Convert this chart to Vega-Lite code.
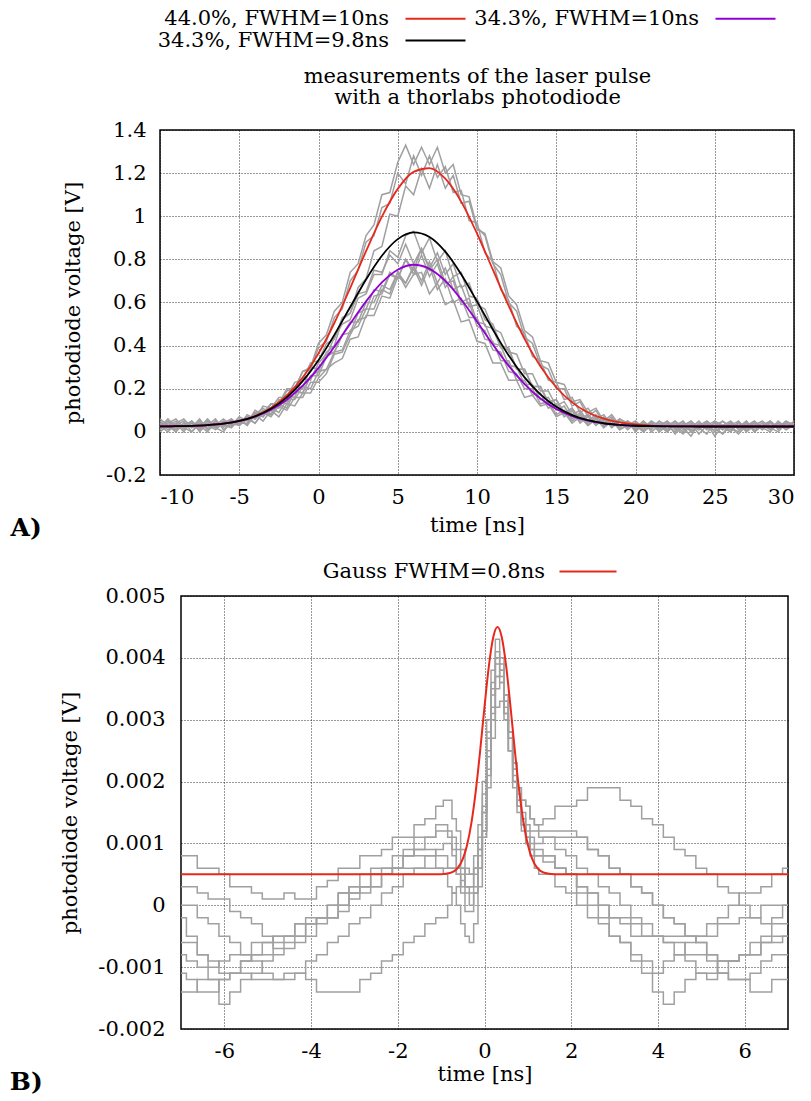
{
"$schema": "https://vega.github.io/schema/vega-lite/v6.json",
"padding": {"left": 2, "top": 7, "right": 5, "bottom": 5},
"spacing": 18,
"resolve": {"scale": {"color": "independent"}},
"datasets": {
"topgray": [
{"t":-10,"a":0.03,"b":0.05,"c":0.01,"d":0.04,"e":0.02,"f":0.06,"g":0,"h":0.03,"i":0.04,"j":0.01},
{"t":-9.5,"a":0.05,"b":0.02,"c":0.04,"d":0.01,"e":0.06,"f":0.03,"g":0.03,"h":0,"i":0.02,"j":0.05},
{"t":-9,"a":0.01,"b":0.04,"c":0.06,"d":0.03,"e":0.02,"f":0,"g":0.05,"h":0.04,"i":0.01,"j":0.03},
{"t":-8.5,"a":0.04,"b":0,"c":0.02,"d":0.05,"e":0.03,"f":0.04,"g":0.01,"h":0.06,"i":0.03,"j":0.02},
{"t":-8,"a":0.02,"b":0.05,"c":0.03,"d":0,"e":0.04,"f":0.02,"g":0.04,"h":0.02,"i":0.05,"j":0},
{"t":-7.5,"a":0.06,"b":0.02,"c":0.01,"d":0.04,"e":0.01,"f":0.05,"g":0.02,"h":0.03,"i":0,"j":0.04},
{"t":-7,"a":0.01,"b":0.03,"c":0.05,"d":0.02,"e":0.05,"f":0.01,"g":0.06,"h":0,"i":0.04,"j":0.03},
{"t":-6.5,"a":0.04,"b":0.06,"c":0.02,"d":0.05,"e":0.02,"f":0.03,"g":0.02,"h":0.05,"i":0.02,"j":0.01},
{"t":-6,"a":0.03,"b":0.01,"c":0.05,"d":0.02,"e":0.04,"f":0.06,"g":0,"h":0.03,"i":0.05,"j":0.04},
{"t":-5.5,"a":0.05,"b":0.04,"c":0.03,"d":0.06,"e":0.02,"f":0.03,"g":0.05,"h":0.02,"i":0.03,"j":0.06},
{"t":-5,"a":0.04,"b":0.03,"c":0.07,"d":0.03,"e":0.06,"f":0.05,"g":0.03,"h":0.06,"i":0.04,"j":0.03},
{"t":-4.5,"a":0.04,"b":0.06,"c":0.05,"d":0.08,"e":0.03,"f":0.07,"g":0.06,"h":0.03,"i":0.07,"j":0.07},
{"t":-4,"a":0.1,"b":0.04,"c":0.09,"d":0.06,"e":0.09,"f":0.06,"g":0.08,"h":0.08,"i":0.04,"j":0.06},
{"t":-3.5,"a":0.08,"b":0.09,"c":0.07,"d":0.1,"e":0.07,"f":0.12,"g":0.05,"h":0.11,"i":0.09,"j":0.09},
{"t":-3,"a":0.13,"b":0.08,"c":0.13,"d":0.08,"e":0.11,"f":0.11,"g":0.1,"h":0.08,"i":0.13,"j":0.07},
{"t":-2.5,"a":0.12,"b":0.13,"c":0.13,"d":0.14,"e":0.09,"f":0.16,"g":0.07,"h":0.15,"i":0.11,"j":0.12},
{"t":-2,"a":0.19,"b":0.11,"c":0.2,"d":0.13,"e":0.15,"f":0.16,"g":0.13,"h":0.14,"i":0.17,"j":0.1},
{"t":-1.5,"a":0.2,"b":0.19,"c":0.2,"d":0.19,"e":0.15,"f":0.23,"g":0.12,"h":0.21,"i":0.16,"j":0.16},
{"t":-1,"a":0.28,"b":0.18,"c":0.28,"d":0.18,"e":0.21,"f":0.24,"g":0.18,"h":0.2,"i":0.25,"j":0.16},
{"t":-0.5,"a":0.29,"b":0.26,"c":0.3,"d":0.26,"e":0.2,"f":0.32,"g":0.18,"h":0.3,"i":0.24,"j":0.23},
{"t":0,"a":0.39,"b":0.28,"c":0.41,"d":0.26,"e":0.28,"f":0.33,"g":0.25,"h":0.29,"i":0.32,"j":0.23},
{"t":0.5,"a":0.42,"b":0.37,"c":0.45,"d":0.35,"e":0.29,"f":0.41,"g":0.29,"h":0.35,"i":0.36,"j":0.27},
{"t":1,"a":0.53,"b":0.4,"c":0.56,"d":0.37,"e":0.37,"f":0.43,"g":0.32,"h":0.44,"i":0.37,"j":0.36},
{"t":1.5,"a":0.57,"b":0.52,"c":0.6,"d":0.45,"e":0.38,"f":0.53,"g":0.34,"h":0.5,"i":0.45,"j":0.37},
{"t":2,"a":0.7,"b":0.55,"c":0.74,"d":0.46,"e":0.47,"f":0.55,"g":0.43,"h":0.52,"i":0.51,"j":0.45},
{"t":2.5,"a":0.75,"b":0.67,"c":0.78,"d":0.55,"e":0.49,"f":0.64,"g":0.44,"h":0.62,"i":0.51,"j":0.52},
{"t":3,"a":0.88,"b":0.71,"c":0.91,"d":0.57,"e":0.57,"f":0.65,"g":0.54,"h":0.64,"i":0.6,"j":0.53},
{"t":3.5,"a":0.91,"b":0.84,"c":0.96,"d":0.66,"e":0.57,"f":0.75,"g":0.54,"h":0.73,"i":0.6,"j":0.63},
{"t":4,"a":1.04,"b":0.86,"c":1.1,"d":0.65,"e":0.66,"f":0.74,"g":0.63,"h":0.73,"i":0.68,"j":0.64},
{"t":4.5,"a":1.06,"b":1.01,"c":1.11,"d":0.74,"e":0.64,"f":0.82,"g":0.62,"h":0.84,"i":0.66,"j":0.73},
{"t":5,"a":1.2,"b":1,"c":1.25,"d":0.71,"e":0.74,"f":0.78,"g":0.72,"h":0.81,"i":0.74,"j":0.71},
{"t":5.5,"a":1.15,"b":1.14,"c":1.33,"d":0.8,"e":0.69,"f":0.87,"g":0.69,"h":0.91,"i":0.67,"j":0.8},
{"t":6,"a":1.28,"b":1.1,"c":1.24,"d":0.73,"e":0.76,"f":0.78,"g":0.77,"h":0.93,"i":0.73,"j":0.75},
{"t":6.5,"a":1.19,"b":1.22,"c":1.32,"d":0.82,"e":0.68,"f":0.85,"g":0.7,"h":0.83,"i":0.74,"j":0.85},
{"t":7,"a":1.28,"b":1.13,"c":1.24,"d":0.72,"e":0.77,"f":0.75,"g":0.79,"h":0.9,"i":0.64,"j":0.76},
{"t":7.5,"a":1.18,"b":1.24,"c":1.32,"d":0.78,"e":0.66,"f":0.8,"g":0.69,"h":0.79,"i":0.69,"j":0.83},
{"t":8,"a":1.23,"b":1.13,"c":1.2,"d":0.67,"e":0.71,"f":0.69,"g":0.76,"h":0.84,"i":0.59,"j":0.73},
{"t":8.5,"a":1.11,"b":1.19,"c":1.24,"d":0.72,"e":0.6,"f":0.7,"g":0.66,"h":0.72,"i":0.61,"j":0.78},
{"t":9,"a":1.12,"b":1.06,"c":1.1,"d":0.6,"e":0.62,"f":0.59,"g":0.68,"h":0.74,"i":0.51,"j":0.67},
{"t":9.5,"a":0.98,"b":1.07,"c":1.09,"d":0.62,"e":0.53,"f":0.6,"g":0.58,"h":0.63,"i":0.52,"j":0.69},
{"t":10,"a":0.97,"b":0.94,"c":0.95,"d":0.51,"e":0.53,"f":0.49,"g":0.59,"h":0.62,"i":0.42,"j":0.59},
{"t":10.5,"a":0.83,"b":0.92,"c":0.91,"d":0.5,"e":0.43,"f":0.47,"g":0.49,"h":0.52,"i":0.41,"j":0.57},
{"t":11,"a":0.79,"b":0.79,"c":0.78,"d":0.41,"e":0.42,"f":0.38,"g":0.48,"h":0.5,"i":0.32,"j":0.48},
{"t":11.5,"a":0.66,"b":0.76,"c":0.73,"d":0.4,"e":0.33,"f":0.37,"g":0.39,"h":0.4,"i":0.32,"j":0.46},
{"t":12,"a":0.61,"b":0.63,"c":0.6,"d":0.31,"e":0.33,"f":0.28,"g":0.38,"h":0.39,"i":0.24,"j":0.37},
{"t":12.5,"a":0.49,"b":0.59,"c":0.56,"d":0.3,"e":0.24,"f":0.27,"g":0.29,"h":0.29,"i":0.24,"j":0.36},
{"t":13,"a":0.46,"b":0.47,"c":0.44,"d":0.22,"e":0.24,"f":0.2,"g":0.29,"h":0.29,"i":0.16,"j":0.27},
{"t":13.5,"a":0.35,"b":0.44,"c":0.41,"d":0.22,"e":0.17,"f":0.2,"g":0.21,"h":0.21,"i":0.17,"j":0.27},
{"t":14,"a":0.33,"b":0.33,"c":0.31,"d":0.15,"e":0.18,"f":0.13,"g":0.21,"h":0.21,"i":0.12,"j":0.19},
{"t":14.5,"a":0.24,"b":0.32,"c":0.29,"d":0.16,"e":0.11,"f":0.14,"g":0.14,"h":0.13,"i":0.13,"j":0.19},
{"t":15,"a":0.23,"b":0.23,"c":0.2,"d":0.1,"e":0.13,"f":0.08,"g":0.15,"h":0.15,"i":0.07,"j":0.12},
{"t":15.5,"a":0.15,"b":0.22,"c":0.2,"d":0.12,"e":0.07,"f":0.1,"g":0.09,"h":0.08,"i":0.09,"j":0.14},
{"t":16,"a":0.16,"b":0.14,"c":0.12,"d":0.06,"e":0.1,"f":0.05,"g":0.11,"h":0.11,"i":0.04,"j":0.08},
{"t":16.5,"a":0.09,"b":0.15,"c":0.14,"d":0.09,"e":0.04,"f":0.08,"g":0.06,"h":0.05,"i":0.07,"j":0.1},
{"t":17,"a":0.11,"b":0.09,"c":0.07,"d":0.04,"e":0.07,"f":0.03,"g":0.08,"h":0.08,"i":0.03,"j":0.05},
{"t":17.5,"a":0.06,"b":0.11,"c":0.1,"d":0.07,"e":0.03,"f":0.06,"g":0.04,"h":0.04,"i":0.06,"j":0.08},
{"t":18,"a":0.08,"b":0.05,"c":0.04,"d":0.02,"e":0.06,"f":0.02,"g":0.07,"h":0.06,"i":0.02,"j":0.03},
{"t":18.5,"a":0.03,"b":0.08,"c":0.07,"d":0.06,"e":0.02,"f":0.05,"g":0.02,"h":0.03,"i":0.05,"j":0.06},
{"t":19,"a":0.06,"b":0.03,"c":0.02,"d":0.01,"e":0.05,"f":0.02,"g":0.05,"h":0.06,"i":0.01,"j":0.03},
{"t":19.5,"a":0.04,"b":0.05,"c":0.05,"d":0.03,"e":0.02,"f":0.05,"g":0.01,"h":0.03,"i":0.04,"j":0.05},
{"t":20,"a":0.01,"b":0.03,"c":0.02,"d":0.05,"e":0.04,"f":0,"g":0.04,"h":0.05,"i":0.02,"j":0.01},
{"t":20.5,"a":0.05,"b":0,"c":0.04,"d":0.02,"e":0.01,"f":0.04,"g":0.02,"h":0,"i":0.05,"j":0.03},
{"t":21,"a":0.02,"b":0.04,"c":0.01,"d":0.04,"e":0.05,"f":0.02,"g":0.05,"h":0.03,"i":0,"j":0.04},
{"t":21.5,"a":0.03,"b":0.02,"c":0.05,"d":0,"e":0.03,"f":0.05,"g":0.01,"h":0.04,"i":0.03,"j":0.01},
{"t":22,"a":0,"b":0.05,"c":0.03,"d":0.03,"e":0,"f":0.01,"g":0.04,"h":0.01,"i":0.05,"j":0.04},
{"t":22.5,"a":0.04,"b":0.01,"c":0,"d":0.05,"e":0.03,"f":0.03,"g":-0.01,"h":0.05,"i":0.02,"j":0.02},
{"t":23,"a":0.02,"b":0.04,"c":0.04,"d":0.01,"e":0.05,"f":0,"g":0.03,"h":0.02,"i":-0.01,"j":0.05},
{"t":23.5,"a":0.05,"b":0,"c":0.02,"d":0.04,"e":0.01,"f":0.04,"g":0.05,"h":-0.02,"i":0.03,"j":0},
{"t":24,"a":0.01,"b":0.03,"c":0.05,"d":0.02,"e":0.04,"f":-0.01,"g":0.02,"h":0.04,"i":0.01,"j":0.03},
{"t":24.5,"a":0.04,"b":0.05,"c":0.01,"d":-0.01,"e":0.02,"f":0.03,"g":0.04,"h":0.01,"i":0.05,"j":0.02},
{"t":25,"a":0,"b":0.02,"c":0.04,"d":0.05,"e":0.01,"f":0.05,"g":-0.02,"h":0.03,"i":0.02,"j":0.04},
{"t":25.5,"a":0.03,"b":-0.01,"c":0.02,"d":0.03,"e":0.05,"f":0.01,"g":0.03,"h":0.05,"i":-0.01,"j":0.01},
{"t":26,"a":0.05,"b":0.03,"c":0,"d":0.01,"e":0.02,"f":0.04,"g":0,"h":0.02,"i":0.04,"j":0.05},
{"t":26.5,"a":0.02,"b":0.05,"c":0.04,"d":0.04,"e":-0.01,"f":0.02,"g":0.05,"h":0,"i":0.02,"j":0.01},
{"t":27,"a":0.04,"b":0.01,"c":0.02,"d":0,"e":0.03,"f":0.05,"g":0.01,"h":0.04,"i":0.05,"j":0.03},
{"t":27.5,"a":0.01,"b":0.04,"c":0.05,"d":0.03,"e":0.04,"f":0,"g":0.03,"h":0.02,"i":0,"j":0.05},
{"t":28,"a":0.03,"b":0.02,"c":0.01,"d":0.05,"e":0.01,"f":0.03,"g":0.05,"h":0.04,"i":0.03,"j":0.02},
{"t":28.5,"a":0.05,"b":0,"c":0.04,"d":0.02,"e":0.05,"f":0.01,"g":0.02,"h":0.01,"i":0.05,"j":0.04},
{"t":29,"a":0.02,"b":0.04,"c":0.02,"d":0.04,"e":0.02,"f":0.04,"g":0,"h":0.05,"i":0.01,"j":0.02},
{"t":29.5,"a":0.04,"b":0.01,"c":0.05,"d":0.01,"e":0.04,"f":0.02,"g":0.04,"h":0.02,"i":0.04,"j":0.05},
{"t":30,"a":0.02,"b":0.03,"c":0.03,"d":0.04,"e":0.02,"f":0.05,"g":0.02,"h":0.04,"i":0.02,"j":0.03}
],
"topfit": [
{"t":-10,"f1":0.0255,"f2":0.0256,"f3":0.0255},
{"t":-9,"f1":0.0262,"f2":0.0264,"f3":0.0263},
{"t":-8,"f1":0.0279,"f2":0.0282,"f3":0.0279},
{"t":-7,"f1":0.0314,"f2":0.0317,"f3":0.0313},
{"t":-6,"f1":0.0382,"f2":0.0384,"f3":0.0381},
{"t":-5,"f1":0.0511,"f2":0.0504,"f3":0.0507},
{"t":-4,"f1":0.0737,"f2":0.0706,"f3":0.0723},
{"t":-3,"f1":0.1111,"f2":0.1024,"f3":0.107},
{"t":-2,"f1":0.1686,"f2":0.149,"f3":0.16},
{"t":-1,"f1":0.252,"f2":0.214,"f3":0.235},
{"t":0,"f1":0.364,"f2":0.297,"f3":0.332},
{"t":1,"f1":0.505,"f2":0.395,"f3":0.45},
{"t":2,"f1":0.667,"f2":0.501,"f3":0.579},
{"t":3,"f1":0.838,"f2":0.605,"f3":0.707},
{"t":4,"f1":0.998,"f2":0.693,"f3":0.817},
{"t":5,"f1":1.127,"f2":0.752,"f3":0.894},
{"t":6,"f1":1.206,"f2":0.775,"f3":0.925},
{"t":7,"f1":1.223,"f2":0.756,"f3":0.904},
{"t":8,"f1":1.174,"f2":0.7,"f3":0.836},
{"t":9,"f1":1.068,"f2":0.614,"f3":0.731},
{"t":10,"f1":0.92,"f2":0.512,"f3":0.605},
{"t":11,"f1":0.752,"f2":0.405,"f3":0.475},
{"t":12,"f1":0.584,"f2":0.306,"f3":0.354},
{"t":13,"f1":0.431,"f2":0.222,"f3":0.253},
{"t":14,"f1":0.304,"f2":0.155,"f3":0.174},
{"t":15,"f1":0.207,"f2":0.106,"f3":0.116},
{"t":16,"f1":0.137,"f2":0.0732,"f3":0.078},
{"t":17,"f1":0.09,"f2":0.052,"f3":0.054},
{"t":18,"f1":0.061,"f2":0.0393,"f3":0.04},
{"t":19,"f1":0.0437,"f2":0.0322,"f3":0.0324},
{"t":20,"f1":0.0342,"f2":0.0284,"f3":0.0284},
{"t":21,"f1":0.0293,"f2":0.0265,"f3":0.0265},
{"t":22,"f1":0.0269,"f2":0.0257,"f3":0.0256},
{"t":23,"f1":0.0258,"f2":0.0253,"f3":0.0252},
{"t":24,"f1":0.0253,"f2":0.025,"f3":0.025},
{"t":25,"f1":0.025,"f2":0.025,"f3":0.025},
{"t":30,"f1":0.025,"f2":0.025,"f3":0.025}
],
"botgray": [
{"t":-7,"a":0.0008,"b":0.0003,"c":0,"d":-0.0002,"e":-0.0006,"f":-0.0008,"g":-0.0014,"h":-0.0011},
{"t":-6.75,"a":0.0008,"b":0.0003,"c":0,"d":-0.0005,"e":-0.0006,"f":-0.0009,"g":-0.0014,"h":-0.0012},
{"t":-6.5,"a":0.0006,"b":0.0002,"c":-0.0002,"d":-0.0008,"e":-0.0008,"f":-0.001,"g":-0.0012,"h":-0.0014},
{"t":-6.25,"a":0.0006,"b":0.0001,"c":-0.0003,"d":-0.0012,"e":-0.0009,"f":-0.001,"g":-0.0012,"h":-0.0014},
{"t":-6,"a":0.0005,"b":0.0001,"c":-0.0005,"d":-0.0016,"e":-0.0011,"f":-0.0009,"g":-0.0012,"h":-0.0012},
{"t":-5.75,"a":0.0003,"b":-0.0001,"c":-0.0006,"d":-0.0014,"e":-0.0011,"f":-0.0008,"g":-0.0011,"h":-0.0011},
{"t":-5.5,"a":0.0003,"b":-0.0002,"c":-0.0008,"d":-0.0012,"e":-0.0009,"f":-0.0008,"g":-0.0011,"h":-0.0009},
{"t":-5.25,"a":0.0002,"b":-0.0003,"c":-0.0009,"d":-0.0011,"e":-0.0008,"f":-0.0006,"g":-0.0012,"h":-0.0008},
{"t":-5,"a":0.0001,"b":-0.0005,"c":-0.0011,"d":-0.0009,"e":-0.0008,"f":-0.0006,"g":-0.0012,"h":-0.0006},
{"t":-4.75,"a":0.0001,"b":-0.0007,"c":-0.0012,"d":-0.0008,"e":-0.0006,"f":-0.0005,"g":-0.0012,"h":-0.0005},
{"t":-4.5,"a":0.0002,"b":-0.0007,"c":-0.0012,"d":-0.0006,"e":-0.0005,"f":-0.0005,"g":-0.0011,"h":-0.0005},
{"t":-4.25,"a":0.0001,"b":-0.0006,"c":-0.0011,"d":-0.0005,"e":-0.0005,"f":-0.0003,"g":-0.0011,"h":-0.0003},
{"t":-4,"a":0.0001,"b":-0.0005,"c":-0.0009,"d":-0.0003,"e":-0.0003,"f":-0.0002,"g":-0.0012,"h":-0.0003},
{"t":-3.75,"a":0.0003,"b":-0.0003,"c":-0.0008,"d":-0.0002,"e":-0.0002,"f":-0.0002,"g":-0.0014,"h":-0.0002},
{"t":-3.5,"a":0.0004,"b":-0.0002,"c":-0.0006,"d":0,"e":-0.0002,"f":0,"g":-0.0014,"h":-0.0002},
{"t":-3.25,"a":0.0006,"b":-0.0001,"c":-0.0005,"d":0.0002,"e":0,"f":0.0002,"g":-0.0014,"h":0},
{"t":-3,"a":0.0006,"b":0.0001,"c":-0.0003,"d":0.0003,"e":0.0002,"f":0.0003,"g":-0.0014,"h":0.0002},
{"t":-2.75,"a":0.0008,"b":0.0002,"c":-0.0002,"d":0.0003,"e":0.0003,"f":0.0005,"g":-0.0012,"h":0.0003},
{"t":-2.5,"a":0.0008,"b":0.0003,"c":0,"d":0.0005,"e":0.0005,"f":0.0006,"g":-0.0011,"h":0.0003},
{"t":-2.25,"a":0.0009,"b":0.0005,"c":0.0002,"d":0.0006,"e":0.0005,"f":0.0006,"g":-0.0009,"h":0.0005},
{"t":-2,"a":0.0011,"b":0.0006,"c":0.0003,"d":0.0006,"e":0.0006,"f":0.0008,"g":-0.0008,"h":0.0006},
{"t":-1.75,"a":0.0011,"b":0.0008,"c":0.0005,"d":0.0008,"e":0.0006,"f":0.0009,"g":-0.0006,"h":0.0008},
{"t":-1.5,"a":0.0013,"b":0.0009,"c":0.0006,"d":0.0008,"e":0.0006,"f":0.0011,"g":-0.0005,"h":0.0009},
{"t":-1.25,"a":0.0014,"b":0.0011,"c":0.0008,"d":0.0008,"e":0.0006,"f":0.0011,"g":-0.0003,"h":0.0009},
{"t":-1,"a":0.0016,"b":0.0013,"c":0.0009,"d":0.0006,"e":0.0006,"f":0.0012,"g":-0.0002,"h":0.0008},
{"t":-0.9,"a":0.0017,"b":0.0013,"c":0.001,"d":0.0005,"e":0.0006,"f":0.0012,"g":-0.0002,"h":0.0008},
{"t":-0.8,"a":0.0017,"b":0.0012,"c":0.001,"d":0.0003,"e":0.0006,"f":0.0011,"g":0,"h":0.0006},
{"t":-0.7,"a":0.0014,"b":0.0011,"c":0.0008,"d":0.0002,"e":0.0006,"f":0.0009,"g":0.0002,"h":0.0006},
{"t":-0.6,"a":0.0012,"b":0.0009,"c":0.0005,"d":0,"e":0.0006,"f":0.0006,"g":0.0003,"h":0.0005},
{"t":-0.5,"a":0.0009,"b":0.0006,"c":0.0002,"d":-0.0003,"e":0.0006,"f":0.0003,"g":0.0004,"h":0.0005},
{"t":-0.4,"a":0.0006,"b":0.0003,"c":-0.0001,"d":-0.0005,"e":0.0005,"f":0.0002,"g":0.0003,"h":0.0003},
{"t":-0.3,"a":0.0005,"b":0.0003,"c":-0.0001,"d":-0.0006,"e":0.0005,"f":0,"g":0.0002,"h":0.0003},
{"t":-0.2,"a":0.0008,"b":0.0006,"c":0.0002,"d":-0.0003,"e":0.0006,"f":0.0002,"g":0.0003,"h":0.0005},
{"t":-0.1,"a":0.0013,"b":0.0011,"c":0.0008,"d":0.0003,"e":0.0009,"f":0.0006,"g":0.0006,"h":0.0009},
{"t":0,"a":0.002,"b":0.0018,"c":0.0015,"d":0.0012,"e":0.0015,"f":0.0012,"g":0.0011,"h":0.0016},
{"t":0.1,"a":0.003,"b":0.0028,"c":0.0025,"d":0.0022,"e":0.0024,"f":0.0021,"g":0.0019,"h":0.0027},
{"t":0.2,"a":0.0038,"b":0.0036,"c":0.0034,"d":0.0031,"e":0.0032,"f":0.003,"g":0.0027,"h":0.0035},
{"t":0.3,"a":0.0043,"b":0.0041,"c":0.0039,"d":0.0037,"e":0.0037,"f":0.0035,"g":0.0032,"h":0.004},
{"t":0.4,"a":0.004,"b":0.0039,"c":0.0037,"d":0.0038,"e":0.0036,"f":0.0036,"g":0.0033,"h":0.0038},
{"t":0.5,"a":0.0034,"b":0.0033,"c":0.0031,"d":0.0034,"e":0.0031,"f":0.0032,"g":0.003,"h":0.0033},
{"t":0.6,"a":0.0028,"b":0.0027,"c":0.0025,"d":0.0028,"e":0.0025,"f":0.0027,"g":0.0025,"h":0.0028},
{"t":0.7,"a":0.0023,"b":0.0021,"c":0.0019,"d":0.0022,"e":0.002,"f":0.0022,"g":0.002,"h":0.0023},
{"t":0.8,"a":0.0019,"b":0.0017,"c":0.0015,"d":0.0017,"e":0.0016,"f":0.0018,"g":0.0016,"h":0.0019},
{"t":0.9,"a":0.0017,"b":0.0014,"c":0.0012,"d":0.0013,"e":0.0013,"f":0.0015,"g":0.0013,"h":0.0017},
{"t":1,"a":0.0016,"b":0.0012,"c":0.001,"d":0.001,"e":0.0011,"f":0.0013,"g":0.0011,"h":0.0016},
{"t":1.1,"a":0.0014,"b":0.0011,"c":0.0009,"d":0.0008,"e":0.0009,"f":0.0012,"g":0.001,"h":0.0014},
{"t":1.2,"a":0.0013,"b":0.001,"c":0.0008,"d":0.0006,"e":0.0008,"f":0.0012,"g":0.0009,"h":0.0013},
{"t":1.3,"a":0.0013,"b":0.001,"c":0.0008,"d":0.0005,"e":0.0008,"f":0.0011,"g":0.0009,"h":0.0012},
{"t":1.4,"a":0.0014,"b":0.0011,"c":0.0008,"d":0.0005,"e":0.0007,"f":0.0011,"g":0.0008,"h":0.0012},
{"t":1.5,"a":0.0014,"b":0.0011,"c":0.0008,"d":0.0005,"e":0.0007,"f":0.0011,"g":0.0008,"h":0.0012},
{"t":1.75,"a":0.0016,"b":0.0011,"c":0.0006,"d":0.0003,"e":0.0006,"f":0.0009,"g":0.0006,"h":0.0012},
{"t":2,"a":0.0016,"b":0.0011,"c":0.0005,"d":0.0002,"e":0.0005,"f":0.0008,"g":0.0005,"h":0.0012},
{"t":2.25,"a":0.0017,"b":0.0011,"c":0.0002,"d":0,"e":0.0003,"f":0.0006,"g":0.0003,"h":0.0011},
{"t":2.5,"a":0.0019,"b":0.0009,"c":0,"d":-0.0002,"e":0.0002,"f":0.0005,"g":0.0002,"h":0.0009},
{"t":2.75,"a":0.0019,"b":0.0008,"c":-0.0002,"d":-0.0003,"e":0,"f":0.0003,"g":0,"h":0.0008},
{"t":3,"a":0.0019,"b":0.0006,"c":-0.0005,"d":-0.0005,"e":-0.0002,"f":0.0002,"g":-0.0002,"h":0.0006},
{"t":3.25,"a":0.0017,"b":0.0005,"c":-0.0006,"d":-0.0006,"e":-0.0003,"f":0,"g":-0.0002,"h":0.0005},
{"t":3.5,"a":0.0016,"b":0.0003,"c":-0.0009,"d":-0.0008,"e":-0.0005,"f":-0.0002,"g":-0.0003,"h":0.0003},
{"t":3.75,"a":0.0014,"b":0.0002,"c":-0.0011,"d":-0.0009,"e":-0.0005,"f":-0.0003,"g":-0.0005,"h":0.0002},
{"t":4,"a":0.0013,"b":0,"c":-0.0014,"d":-0.0011,"e":-0.0005,"f":-0.0005,"g":-0.0005,"h":0},
{"t":4.25,"a":0.0011,"b":-0.0002,"c":-0.0016,"d":-0.0009,"e":-0.0005,"f":-0.0006,"g":-0.0006,"h":-0.0002},
{"t":4.5,"a":0.0009,"b":-0.0003,"c":-0.0014,"d":-0.0008,"e":-0.0005,"f":-0.0008,"g":-0.0006,"h":-0.0003},
{"t":4.75,"a":0.0008,"b":-0.0005,"c":-0.0012,"d":-0.0006,"e":-0.0005,"f":-0.0009,"g":-0.0008,"h":-0.0005},
{"t":5,"a":0.0006,"b":-0.0006,"c":-0.0011,"d":-0.0005,"e":-0.0005,"f":-0.0011,"g":-0.0008,"h":-0.0006},
{"t":5.25,"a":0.0005,"b":-0.0008,"c":-0.0011,"d":-0.0003,"e":-0.0005,"f":-0.0012,"g":-0.0009,"h":-0.0008},
{"t":5.5,"a":0.0003,"b":-0.0011,"c":-0.0009,"d":-0.0002,"e":-0.0003,"f":-0.0011,"g":-0.0011,"h":-0.0009},
{"t":5.75,"a":0.0002,"b":-0.0012,"c":-0.0009,"d":0,"e":-0.0003,"f":-0.0009,"g":-0.0012,"h":-0.0009},
{"t":6,"a":0,"b":-0.0012,"c":-0.0008,"d":0.0002,"e":-0.0002,"f":-0.0008,"g":-0.0012,"h":-0.0008},
{"t":6.25,"a":-0.0002,"b":-0.0011,"c":-0.0008,"d":0.0002,"e":-0.0002,"f":-0.0008,"g":-0.0014,"h":-0.0006},
{"t":6.5,"a":-0.0003,"b":-0.0009,"c":-0.0006,"d":0.0003,"e":0,"f":-0.0006,"g":-0.0014,"h":-0.0005},
{"t":6.75,"a":-0.0002,"b":-0.0008,"c":-0.0006,"d":0.0005,"e":0,"f":-0.0005,"g":-0.0012,"h":-0.0003},
{"t":7,"a":0,"b":-0.0008,"c":-0.0005,"d":0.0006,"e":0,"f":-0.0005,"g":-0.0012,"h":-0.0003}
],
"botfit": [
{"t":-7,"gauss":0.0005},{"t":-1.2,"gauss":0.0005},{"t":-1,"gauss":0.000503},{"t":-0.8,"gauss":0.000521},
{"t":-0.6,"gauss":0.00062},{"t":-0.5,"gauss":0.00075},{"t":-0.4,"gauss":0.000979},{"t":-0.3,"gauss":0.001341},
{"t":-0.2,"gauss":0.001854},{"t":-0.1,"gauss":0.0025},{"t":0,"gauss":0.003209},{"t":0.1,"gauss":0.003864},
{"t":0.2,"gauss":0.00433},{"t":0.3,"gauss":0.0045},{"t":0.4,"gauss":0.00433},{"t":0.5,"gauss":0.003864},
{"t":0.6,"gauss":0.003209},{"t":0.7,"gauss":0.0025},{"t":0.8,"gauss":0.001854},{"t":0.9,"gauss":0.001341},
{"t":1,"gauss":0.000979},{"t":1.1,"gauss":0.00075},{"t":1.2,"gauss":0.00062},{"t":1.4,"gauss":0.000521},
{"t":1.6,"gauss":0.000503},{"t":1.8,"gauss":0.0005},{"t":7,"gauss":0.0005}
],
"blank": [{"n": 0}]
},
"vconcat": [
{
"spacing": 0,
"resolve": {"scale": {"color": "independent"}},
"hconcat": [
{"width": 1, "height": 1, "view": {"stroke": null}, "data": {"name": "blank"}, "mark": {"type": "point", "opacity": 0}},
{
"width": 634,
"height": 345,
"title": {"text": "A)", "orient": "bottom", "anchor": "start", "frame": "bounds", "dx": -52, "offset": -19, "font": "DejaVu Serif", "fontSize": 25, "fontWeight": "bold", "color": "black"},
"resolve": {"axis": {"x": "independent"}},
"layer": [
{
"data": {"name": "topgray"},
"transform": [{"fold": ["a","b","c","d","e","f","g","h","i","j"], "as": ["run","v"]}],
"mark": {"type": "line", "color": "#a0a0a0", "strokeWidth": 1.5},
"encoding": {
"x": {"field": "t", "type": "quantitative", "scale": {"domain": [-10, 30], "nice": false},
"axis": {"values": [-10,-5,0,5,10,15,20,25,30], "title": "time [ns]", "labelExpr": "toString(datum.value)", "labelPadding": 11, "titlePadding": 7}},
"y": {"field": "v", "type": "quantitative", "scale": {"domain": [-0.2, 1.4], "nice": false, "zero": false},
"axis": {"values": [-0.2,0,0.2,0.4,0.6,0.8,1,1.2,1.4], "title": "photodiode voltage [V]", "labelExpr": "toString(datum.value)", "labelPadding": 14, "titlePadding": 22}},
"detail": {"field": "run", "type": "nominal"}
}
},
{
"data": {"name": "topfit"},
"transform": [{"fold": ["f1","f2","f3"], "as": ["fit","v"]}],
"mark": {"type": "line", "strokeWidth": 1.8, "interpolate": "monotone"},
"encoding": {
"x": {"field": "t", "type": "quantitative",
"axis": {"orient": "top", "labels": false, "ticks": false, "domain": false, "grid": false, "title": ["measurements of the laser pulse", "with a thorlabs photodiode"], "titlePadding": 23, "titleLineHeight": 21}},
"y": {"field": "v", "type": "quantitative"},
"color": {"field": "fit", "type": "nominal",
"scale": {"domain": ["f1","f2","f3"], "range": ["#e8281c", "#9400d3", "#000000"]},
"legend": {"orient": "none", "legendX": 265, "legendY": -122, "direction": "horizontal", "columns": 2, "title": null,
"symbolType": "M-6,0H6", "symbolSize": 100, "symbolStrokeWidth": 1.8, "labelAlign": "right", "labelOffset": -57,
"labelFont": "DejaVu Serif", "labelFontSize": 21, "labelColor": "black", "labelLimit": 500, "columnPadding": 4, "rowPadding": 0, "padding": 0,
"labelExpr": "datum.label == 'f1' ? '44.0%, FWHM=10ns' : datum.label == 'f2' ? '34.3%, FWHM=10ns' : '34.3%, FWHM=9.8ns'"}}
}
}
]
}
]
},
{
"spacing": 0,
"resolve": {"scale": {"color": "independent"}},
"hconcat": [
{"width": 1, "height": 1, "view": {"stroke": null}, "data": {"name": "blank"}, "mark": {"type": "point", "opacity": 0}},
{
"width": 607,
"height": 433,
"title": {"text": "B)", "orient": "bottom", "anchor": "start", "frame": "bounds", "dx": -50, "offset": -14, "font": "DejaVu Serif", "fontSize": 25, "fontWeight": "bold", "color": "black"},
"layer": [
{
"data": {"name": "botgray"},
"transform": [{"fold": ["a","b","c","d","e","f","g","h"], "as": ["run","v"]}],
"mark": {"type": "line", "color": "#a0a0a0", "strokeWidth": 1.5, "interpolate": "step"},
"encoding": {
"x": {"field": "t", "type": "quantitative", "scale": {"domain": [-7, 7], "nice": false},
"axis": {"values": [-6,-4,-2,0,2,4,6], "title": "time [ns]", "labelExpr": "toString(datum.value)", "labelPadding": 11, "titlePadding": 2}},
"y": {"field": "v", "type": "quantitative", "scale": {"domain": [-0.002, 0.005], "nice": false, "zero": false},
"axis": {"values": [-0.002,-0.001,0,0.001,0.002,0.003,0.004,0.005], "title": "photodiode voltage [V]", "labelExpr": "toString(datum.value)", "labelPadding": 16, "titlePadding": 17}},
"detail": {"field": "run", "type": "nominal"}
}
},
{
"data": {"name": "botfit"},
"transform": [{"fold": ["gauss"], "as": ["fit","v"]}],
"mark": {"type": "line", "strokeWidth": 2, "interpolate": "monotone"},
"encoding": {
"x": {"field": "t", "type": "quantitative"},
"y": {"field": "v", "type": "quantitative"},
"color": {"field": "fit", "type": "nominal",
"scale": {"domain": ["gauss"], "range": ["#e8281c"]},
"legend": {"orient": "none", "legendX": 396.5, "legendY": -35, "title": null,
"symbolType": "M-5.7,0H5.7", "symbolSize": 100, "symbolStrokeWidth": 2, "labelAlign": "right", "labelOffset": -53.5,
"labelFont": "DejaVu Serif", "labelFontSize": 21, "labelColor": "black", "labelLimit": 500, "padding": 0,
"labelExpr": "'Gauss FWHM=0.8ns'"}}
}
}
]
}
]
}
],
"config": {
"font": "DejaVu Serif",
"background": "white",
"view": {"stroke": "black", "strokeWidth": 1.5},
"axis": {"labelFont": "DejaVu Serif", "labelFontSize": 21, "labelColor": "black", "titleFont": "DejaVu Serif", "titleFontSize": 21, "titleFontWeight": "normal", "titleColor": "black", "domain": false, "ticks": false, "grid": true, "gridColor": "black", "gridDash": [1, 2], "gridWidth": 1, "gridOpacity": 0.8}
}
}
